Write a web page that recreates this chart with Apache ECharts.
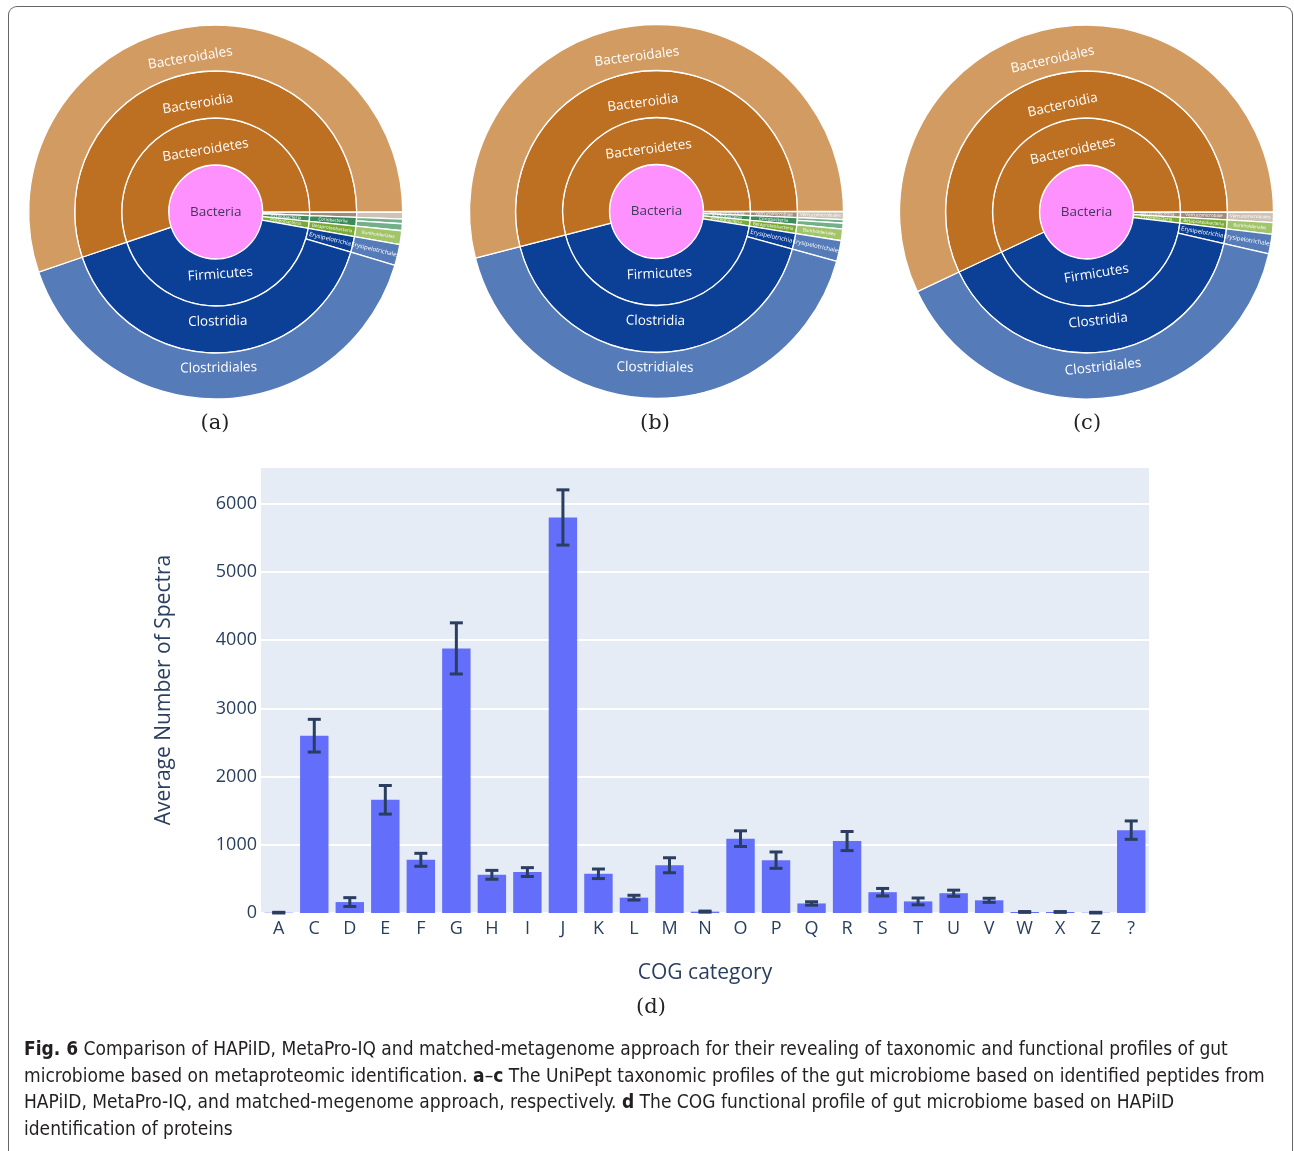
<!DOCTYPE html>
<html><head><meta charset="utf-8">
<script src="https://cdn.jsdelivr.net/npm/echarts@6/dist/echarts.min.js"></script>
<style>
html,body{margin:0;padding:0;background:#fff;width:1294px;height:1151px;overflow:hidden;}
#frame{position:absolute;left:8px;top:6px;width:1285px;height:1150px;border:1.5px solid #666;border-bottom:none;border-radius:9px 9px 0 0;box-sizing:border-box;}
#chart{position:absolute;left:0;top:0;width:1294px;height:1151px;}
#caption{position:absolute;left:24px;top:1035px;font-family:'Liberation Sans Narrow','DejaVu Sans Condensed',sans-serif;font-size:19px;line-height:26.6px;color:#231f20;white-space:nowrap;}
</style></head>
<body>
<div id="frame"></div>
<div id="chart"></div>
<div id="caption"><b>Fig. 6</b> Comparison of HAPiID, MetaPro-IQ and matched-metagenome approach for their revealing of taxonomic and functional profiles of gut<br>microbiome based on metaproteomic identification. <b>a</b>–<b>c</b> The UniPept taxonomic profiles of the gut microbiome based on identified peptides from<br>HAPiID, MetaPro-IQ, and matched-megenome approach, respectively. <b>d</b> The COG functional profile of gut microbiome based on HAPiID<br>identification of proteins</div>
<script>
// ---- data ----
const taxonRoot = 'Bacteria';
const taxonPhyla   = ['Bacteroidetes','Firmicutes','Firmicutes','Proteobacteria','Actinobacteria','Actinobacteria','Verrucomicrobia'];
const taxonClasses = ['Bacteroidia','Clostridia','Erysipelotrichia','Betaproteobacteria','Coriobacteriia','Coriobacteriia','Verrucomicrobiae'];
const taxonOrders  = ['Bacteroidales','Clostridiales','Erysipelotrichales','Burkholderiales','Coriobacteriales','Eggerthellales','Verrucomicrobiales'];
const valuesHAPiID     = [552, 402, 18, 12, 6, 4, 6];
const valuesMetaProIQ  = [540, 417, 18, 10, 5, 3, 7];
const valuesMetagenome = [570, 394, 17, 10, 0, 0, 9];
const panelLabels = ['(a)', '(b)', '(c)', '(d)'];

const cogCategories = ['A','C','D','E','F','G','H','I','J','K','L','M','N','O','P','Q','R','S','T','U','V','W','X','Z','?'];
const cogMeans  = [5, 2600, 160, 1660, 780, 3880, 560, 600, 5800, 575, 225, 700, 20, 1090, 775, 140, 1055, 305, 170, 290, 186, 15, 15, 5, 1215];
const cogErrors = [5, 240, 65, 210, 95, 375, 65, 65, 405, 70, 35, 110, 8, 115, 120, 25, 140, 55, 50, 45, 30, 6, 6, 5, 135];
const yTicks = [0, 1000, 2000, 3000, 4000, 5000, 6000];

// ---- styles ----
const phylumColors = {
  Bacteroidetes: ['#bd6f22', '#d29b62'],
  Firmicutes: ['#0c3f96', '#567bb9'],
  Proteobacteria: ['#7aab35', '#a2c56a'],
  Actinobacteria: ['#3d8b5c', '#72b08a'],
  Verrucomicrobia: ['#a08c7a', '#cdc3b8']
};
const FONT = "'Open Sans', 'DejaVu Sans', sans-serif";

function nodeLabel(value, total, midDeg) {
  const ang = value / total * 360;
  if (ang < 2.5) return { show: false };
  if (ang < 5) return { fontSize: 4.5, rotate: 'radial', color: '#fff' };
  if (ang < 25) return { fontSize: 6, rotate: 'radial', color: '#fff' };
  const up = Math.sin(midDeg * Math.PI / 180) > 0;
  // pull label slightly toward the centre (as plotly does)
  return { formatter: up ? '{t|{b}}' : '{d|{b}}' };
}

function buildTree(values) {
  const total = values.reduce((a, b) => a + b, 0);
  const root = { name: taxonRoot, value: total, children: [] };
  values.forEach((v, i) => {
    if (!v) return;
    const path = [taxonPhyla[i], taxonClasses[i], taxonOrders[i]];
    const phylum = taxonPhyla[i];
    let node = root;
    path.forEach((name, depth) => {
      let c = node.children.find(n => n.name === name);
      if (!c) {
        c = { name, value: 0, children: [], _depth: depth, _phylum: phylum };
        node.children.push(c);
      }
      c.value += v;
      node = c;
    });
  });
  // layout counter-clockwise from 3 o'clock (drawn clockwise with reversed order)
  function finish(n, startDeg) {
    if (n.children && n.children.length === 0) delete n.children;
    if (n._phylum) {
      n.itemStyle = { color: phylumColors[n._phylum][n._depth === 2 ? 1 : 0] };
      const mid = startDeg + n.value / total * 180;
      n.label = nodeLabel(n.value, total, mid);
    }
    delete n._depth; delete n._phylum;
    if (n.children) {
      let s = startDeg;
      n.children.forEach(c => { finish(c, s); s += c.value / total * 360; });
      n.children.reverse();
    }
  }
  finish(root, 0);
  return [root];
}

function sunburst(values, cx, cy) {
  return {
    type: 'sunburst',
    center: [cx, cy],
    radius: [0, 187],
    startAngle: 0,
    clockwise: true,
    sort: null,
    nodeClick: false,
    emphasis: { disabled: true },
    data: buildTree(values),
    itemStyle: { borderColor: '#fff', borderWidth: 1.3 },
    label: {
      color: '#fff', fontSize: 13.5, fontFamily: FONT, rotate: 'tangential',
      rich: {
        t: { padding: [16, 0, 0, 0], color: '#fff', fontSize: 13.5, fontFamily: FONT },
        d: { padding: [0, 0, 16, 0], color: '#fff', fontSize: 13.5, fontFamily: FONT }
      }
    },
    levels: [
      {},
      { r0: 0, r: 47, itemStyle: { color: '#ff91ff' }, label: { rotate: 0, align: 'center', color: '#403a5a', fontSize: 13.5 } },
      { r0: 47, r: 94 },
      { r0: 94, r: 141 },
      { r0: 141, r: 187 }
    ]
  };
}

const chart = echarts.init(document.getElementById('chart'), null, { renderer: 'canvas' });
const labelStyle = { fontFamily: "'DejaVu Serif', 'Liberation Serif', serif", fontSize: 21, fill: '#222', textAlign: 'center', textVerticalAlign: 'middle' };
chart.setOption({
  animation: false,
  grid: { left: 261, right: 145, top: 467, bottom: 238, show: true, backgroundColor: '#e5ecf6', borderWidth: 0 },
  xAxis: {
    type: 'category', data: cogCategories,
    axisLine: { show: false }, axisTick: { show: false },
    axisLabel: { fontSize: 18, color: '#2a3f5f', margin: 7, fontFamily: FONT },
    name: 'COG category', nameLocation: 'middle', nameGap: 50,
    nameTextStyle: { fontSize: 21, color: '#2a3f5f', fontFamily: FONT }
  },
  yAxis: {
    type: 'value', min: 0, max: 6540, interval: 1000,
    axisLine: { show: false }, axisTick: { show: false },
    axisLabel: { fontSize: 18, color: '#2a3f5f', margin: 4, fontFamily: FONT, showMaxLabel: false,
      formatter: v => (yTicks.indexOf(v) >= 0 ? String(v) : '') },
    splitLine: { lineStyle: { color: '#ffffff', width: 2 } },
    name: 'Average Number of Spectra', nameLocation: 'middle', nameGap: 86,
    nameTextStyle: { fontSize: 21, color: '#2a3f5f', fontFamily: FONT }
  },
  graphic: [
    { type: 'text', x: 215, y: 424, style: Object.assign({ text: panelLabels[0] }, labelStyle) },
    { type: 'text', x: 655, y: 424, style: Object.assign({ text: panelLabels[1] }, labelStyle) },
    { type: 'text', x: 1087, y: 424, style: Object.assign({ text: panelLabels[2] }, labelStyle) },
    { type: 'text', x: 651, y: 1008, style: Object.assign({ text: panelLabels[3] }, labelStyle) }
  ],
  series: [
    sunburst(valuesHAPiID, 215.7, 212),
    sunburst(valuesMetaProIQ, 656.5, 211.5),
    sunburst(valuesMetagenome, 1086.5, 212),
    {
      type: 'bar', data: cogMeans, barWidth: '80%',
      itemStyle: { color: '#636efa' }, emphasis: { disabled: true }
    },
    {
      type: 'custom',
      data: cogCategories.map((c, i) => [i, cogMeans[i], cogErrors[i]]),
      z: 10,
      renderItem: function (params, api) {
        const i = api.value(0), m = api.value(1), e = api.value(2);
        const top = api.coord([i, m + e]);
        const bot = api.coord([i, Math.max(m - e, 0)]);
        const x = top[0], hw = 6.5;
        const style = { stroke: '#2a3f5f', lineWidth: 3 };
        return { type: 'group', children: [
          { type: 'line', shape: { x1: x, y1: top[1], x2: x, y2: bot[1] }, style },
          { type: 'line', shape: { x1: x - hw, y1: top[1], x2: x + hw, y2: top[1] }, style },
          { type: 'line', shape: { x1: x - hw, y1: bot[1], x2: x + hw, y2: bot[1] }, style }
        ] };
      }
    }
  ]
});
</script>
</body></html>
